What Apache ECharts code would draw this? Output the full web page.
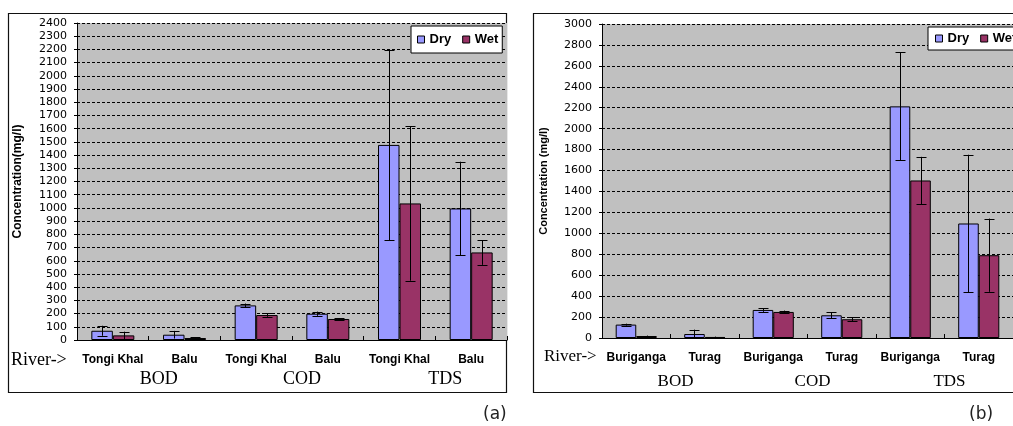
<!DOCTYPE html>
<html>
<head>
<meta charset="utf-8">
<script src="https://cdn.jsdelivr.net/npm/echarts@6/dist/echarts.min.js"></script>
<style>
html,body{margin:0;padding:0;background:#fff;}
#chart{width:1013px;height:426px;}
</style>
</head>
<body>
<div id="chart"></div>
<script>
// ---- data ----
const riversA = ['Tongi Khal', 'Balu', 'Tongi Khal', 'Balu', 'Tongi Khal', 'Balu'];
const riversB = ['Buriganga', 'Turag', 'Buriganga', 'Turag', 'Buriganga', 'Turag'];
const params = ['BOD', 'COD', 'TDS'];

const dryA = [70, 40, 262, 199, 1477, 996];
const dryErrA = [38, 29, 14, 16, 722, 354];
const wetA = [35, 15, 189, 159, 1034, 663];
const wetErrA = [28, 4, 13, 4, 585, 94];

const dryB = [128, 38, 268, 217, 2213, 1094];
const dryErrB = [9, 42, 18, 27, 515, 657];
const wetB = [19, 10, 249, 179, 1505, 791];
const wetErrB = [4, 3, 13, 19, 226, 350];

const yTicksA = {max: 2400, interval: 100};
const yTicksB = {max: 3000, interval: 200};

const DRY = '#9999FF', WET = '#993366';

function errData(vals, errs) {
  return vals.map((v, i) => [i, Math.max(0, v - errs[i]), v + errs[i]]);
}
function errSeries(name, vals, errs, xi, yi, frac) {
  return {
    type: 'custom', name: name + ' error', xAxisIndex: xi, yAxisIndex: yi, z: 5,
    silent: true,
    data: errData(vals, errs),
    encode: {x: 0, y: [1, 2]},
    renderItem: function (p, api) {
      const i = api.value(0);
      const c = api.coord([i, 0]);
      const cw = api.size([1, 0])[0];
      const x = Math.round(c[0] + frac * cw) + 0.5;
      const y1 = api.coord([i, api.value(1)])[1];
      const y2 = api.coord([i, api.value(2)])[1];
      const st = {stroke: '#000', lineWidth: 1};
      const h = 5;
      return {type: 'group', children: [
        {type: 'line', shape: {x1: x, y1: y1, x2: x, y2: y2}, style: st},
        {type: 'line', shape: {x1: x - h, y1: Math.round(y1) + 0.5, x2: x + h, y2: Math.round(y1) + 0.5}, style: st},
        {type: 'line', shape: {x1: x - h, y1: Math.round(y2) + 0.5, x2: x + h, y2: Math.round(y2) + 0.5}, style: st}
      ]};
    }
  };
}

function barSeries(name, vals, color, xi, yi) {
  return {
    type: 'bar', name: name, data: vals, xAxisIndex: xi, yAxisIndex: yi,
    barGap: '0%', barCategoryGap: '40%',
    itemStyle: {color: color, borderColor: '#000', borderWidth: 1},
    emphasis: {disabled: true}
  };
}

function catAxis(gi, data, margin) {
  return {
    type: 'category', gridIndex: gi, data: data, position: 'bottom',
    axisLine: {show: true, lineStyle: {color: '#000', width: 1}},
    axisTick: {show: true, inside: true, length: 4, lineStyle: {color: '#000'}},
    axisLabel: {interval: 0, margin: margin, color: '#000',
      fontFamily: 'Liberation Sans', fontWeight: 'bold', fontSize: 12}
  };
}
function paramAxis(gi, margin, size, pad) {
  return {
    type: 'category', gridIndex: gi, data: params, position: 'bottom',
    axisLine: {show: false}, axisTick: {show: false}, splitLine: {show: false},
    axisLabel: {interval: 0, margin: margin, color: '#000',
      fontFamily: 'Liberation Serif', fontSize: size, padding: [0, 0, 0, pad]}
  };
}
function valAxis(gi, t, name, nameSize) {
  return {
    type: 'value', gridIndex: gi, min: 0, max: t.max, interval: t.interval,
    name: name, nameLocation: 'middle', nameGap: 53, nameRotate: 90,
    nameTextStyle: {fontFamily: 'Liberation Sans', fontWeight: 'bold', fontSize: nameSize, color: '#000'},
    axisLine: {show: true, lineStyle: {color: '#000', width: 1}},
    axisTick: {show: true, length: 3, lineStyle: {color: '#000'}},
    axisLabel: {margin: 10, color: '#000', fontFamily: 'DejaVu Sans', fontSize: 11,
      formatter: function (v) { return String(v); }},
    splitLine: {show: true, lineStyle: {color: '#000', type: [3, 2], width: 1}}
  };
}
function legend(left, top, pad) {
  return {
    left: left, top: top, width: 110, orient: 'horizontal', data: ['Dry', 'Wet'],
    icon: 'rect', itemWidth: 7, itemHeight: 7, itemGap: 11,
    itemStyle: {borderColor: '#000', borderWidth: 1},
    textStyle: {fontFamily: 'Liberation Sans', fontWeight: 'bold', fontSize: 13, color: '#000'},
    backgroundColor: '#fff', borderColor: '#000', borderWidth: 1, padding: pad,
    selectedMode: false
  };
}

const chart = echarts.init(document.getElementById('chart'), null, {renderer: 'canvas'});
chart.setOption({
  animation: false,
  backgroundColor: '#fff',
  grid: [
    {left: 77, right: 506, top: 23, bottom: 86, show: true, backgroundColor: '#C0C0C0', borderWidth: 0},
    {left: 602, right: -9, top: 24, bottom: 88, show: true, backgroundColor: '#C0C0C0', borderWidth: 0}
  ],
  xAxis: [
    catAxis(0, riversA, 14),
    paramAxis(0, 30, 18, 20),
    catAxis(1, riversB, 14),
    paramAxis(1, 35, 17, 10)
  ],
  yAxis: [
    valAxis(0, yTicksA, 'Concentration(mg/l)', 12),
    valAxis(1, yTicksB, 'Concentration (mg/l)', 11)
  ],
  legend: [
    legend(411, 26, [7, 4, 7, 6]),
    legend(928, 27, [5, 4, 5, 7])
  ],
  series: [
    barSeries('Dry', dryA, DRY, 0, 0),
    barSeries('Wet', wetA, WET, 0, 0),
    errSeries('Dry', dryA, dryErrA, 0, 0, -0.15),
    errSeries('Wet', wetA, wetErrA, 0, 0, 0.15),
    barSeries('Dry', dryB, DRY, 2, 1),
    barSeries('Wet', wetB, WET, 2, 1),
    errSeries('Dry', dryB, dryErrB, 2, 1, -0.15),
    errSeries('Wet', wetB, wetErrB, 2, 1, 0.15)
  ],
  graphic: [
    {type: 'rect', shape: {x: 8.5, y: 13.5, width: 498, height: 379}, style: {fill: 'none', stroke: '#111', lineWidth: 1.2}, z: -1},
    {type: 'rect', shape: {x: 533.5, y: 13.5, width: 520, height: 379}, style: {fill: 'none', stroke: '#111', lineWidth: 1.2}, z: -1},
    {type: 'text', left: 11, top: 351, style: {text: 'River->', font: '18px "Liberation Serif"', fill: '#000'}},
    {type: 'text', left: 544, top: 348, style: {text: 'River->', font: '17px "Liberation Serif"', fill: '#000'}},
    {type: 'text', left: 483, top: 406, style: {text: '(a)', font: '17px "DejaVu Sans"', fill: '#222'}},
    {type: 'text', left: 969, top: 406, style: {text: '(b)', font: '17px "DejaVu Sans"', fill: '#222'}}
  ]
});
</script>
</body>
</html>
